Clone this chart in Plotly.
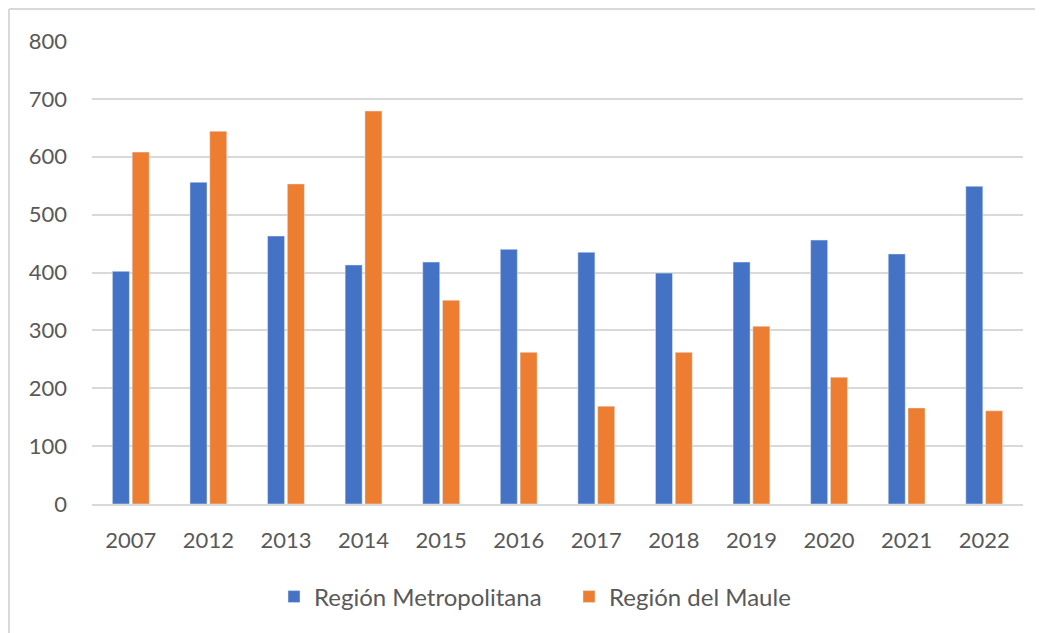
import plotly.graph_objects as go

years = ["2007", "2012", "2013", "2014", "2015", "2016", "2017", "2018", "2019", "2020", "2021", "2022"]
metropolitana = [402, 556, 463, 413, 418, 440, 435, 399, 418, 456, 432, 549]
maule = [608, 644, 553, 679, 352, 262, 169, 262, 307, 219, 166, 161]

fig = go.Figure()
fig.add_trace(go.Bar(x=years, y=metropolitana, name="Región Metropolitana", marker_color="#4472C4"))
fig.add_trace(go.Bar(x=years, y=maule, name="Región del Maule", marker_color="#ED7D31"))

font = dict(family="Lato, Open Sans, sans-serif", size=22, color="#595959")
legfont = dict(family="Lato, Open Sans, sans-serif", size=24, color="#595959")
OFF = 8  # page body margin
W, H = 1043 - OFF, 633 - OFF
ml, mr, mt, mb = 92 - OFF, 20, 41 - OFF, 633 - 504
pw, ph = W - ml - mr, H - mt - mb
fx = (1 - ml) / pw
fy = 1 + (mt - 1) / ph

fig.update_layout(
    width=W, height=H,
    margin=dict(l=ml, r=mr, t=mt, b=mb),
    paper_bgcolor="white", plot_bgcolor="white",
    barmode="group", bargap=0.49, bargroupgap=0.14,
    font=font,
    legend=dict(orientation="h", x=(274 - 92) / pw, xanchor="left", y=(504 - 597) / ph, yanchor="middle",
                font=legfont, itemwidth=30, entrywidthmode="pixels", entrywidth=250, tracegroupgap=0),
    xaxis=dict(showgrid=False, showline=True, linecolor="#d9d9d9", linewidth=1.5,
               ticks="", ticklabelstandoff=16, tickfont=font),
    yaxis=dict(range=[0, 800], dtick=100, showgrid=True, gridcolor="#d9d9d9", gridwidth=1.5,
               zeroline=False, ticks="", ticklabelstandoff=24, tickfont=font),
    shapes=[
        dict(type="line", xref="paper", yref="paper", x0=fx, x1=1.2, y0=fy, y1=fy,
             line=dict(color="#d9d9d9", width=2)),
        dict(type="line", xref="paper", yref="paper", x0=fx, x1=fx, y0=fy, y1=-0.5,
             line=dict(color="#d9d9d9", width=2)),
    ],
)
fig.write_html("out.html")
